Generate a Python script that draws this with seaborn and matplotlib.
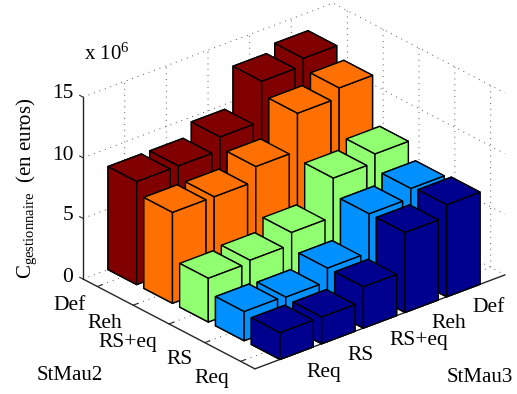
import numpy as np
import matplotlib
matplotlib.use("Agg")
import matplotlib.pyplot as plt
from matplotlib.transforms import Affine2D
import seaborn as sns
from mpl_toolkits.mplot3d import proj3d

labels = ["Req", "RS", "RS+eq", "Reh", "Def"]
row_colors = ["#00008f", "#0090ff", "#90ff70", "#ff7000", "#800000"]
req = [2.2, 2.2, 3.4, 6.6, 7.6]
rs = [2.4, 2.3, 3.4, 6.6, 7.4]
rs_eq = [3.6, 3.8, 4.8, 8.0, 8.7]
reh = [7.5, 7.5, 8.7, 11.8, 12.6]
defa = [8.5, 8.5, 9.6, 12.9, 13.5]
rows = [req, rs, rs_eq, reh, defa]

# where the tick labels sit in the picture (pixels from top left)
x_label_px = [(324, 372), (361, 355), (419, 340), (449, 324), (489, 308)]
y_label_px = [(212, 378), (180, 360), (128, 342), (105, 323), (70, 305)]
z_label_px = [(68, 277), (68, 215), (63, 155), (63, 93)]

sns.set_theme(style="white")
plt.rcParams["font.family"] = ["Liberation Serif"]
plt.rcParams["mathtext.fontset"] = "custom"
plt.rcParams["mathtext.rm"] = "Liberation Serif"
plt.rcParams["mathtext.it"] = "Liberation Serif"
palette = sns.color_palette(row_colors)

W, H = 517, 394
fig = plt.figure(figsize=(W / 100, H / 100), dpi=100)
ax = fig.add_axes([0.1, 0.1, 0.8, 0.8], projection="3d", proj_type="ortho")
ax.view_init(elev=26.3, azim=-130.3)
ax.set_box_aspect((328, 266, 203))

xs, ys, zs, cs = [], [], [], []
for j, row in enumerate(rows):
    for i, v in enumerate(row):
        xs.append(i + 1 - 0.4)
        ys.append(j + 1 - 0.4)
        zs.append(v)
        cs.append(palette[j])
ax.bar3d(xs, ys, np.zeros(len(xs)), 0.8, 0.8, zs, color=cs, shade=False,
         edgecolor="black", linewidth=1.0)

xlim = (0.0, 6.0)
ylim = (0.6, 5.4)
zlim = (0, 15)
ax.set_xlim(*xlim)
ax.set_ylim(*ylim)
ax.set_zlim(*zlim)
ax.set_xticks(range(1, 6), labels)
ax.set_yticks(range(1, 6), labels)
ax.set_zticks([0, 5, 10, 15], ["0", "5", "10", "15"])
ax.tick_params(labelsize=15.5, pad=2, labelcolor="black")
for a in (ax.xaxis, ax.yaxis, ax.zaxis):
    a.set_pane_color((1, 1, 1, 0))
    a.pane.set_edgecolor("none")
    a._axinfo["grid"].update(color="#555555", linewidth=0.7, linestyle=(0, (1, 5)))
    a._axinfo["tick"].update(inward_factor=0.0, outward_factor=0.25, linewidth={True: 0.8, False: 0.8})
    a._axinfo["axisline"]["color"] = "black"
    a.line.set_linewidth(1.0)
ax.zaxis._get_tickdir = lambda position: 1

def screen(x, y, z):
    fig.canvas.draw()
    px, py, _ = proj3d.proj_transform(x, y, z, ax.get_proj())
    return ax.transData.transform((px, py))

left = (xlim[0], ylim[1], 0)
right = (xlim[1], ylim[0], 0)
side = 0.8 * H
p0, p1 = screen(*left), screen(*right)
side *= (505 - 83) / (p1[0] - p0[0])
ax.set_position([0.1, 0.1, side / W, side / H])
p0 = screen(*left)
ax.set_position([0.1 + (83 - p0[0]) / W, 0.1 + (H - 279 - p0[1]) / H, side / W, side / H])

# nudge each real tick label onto its place in the picture
fig.canvas.draw()
renderer = fig.canvas.get_renderer()
for axis, targets in ((ax.xaxis, x_label_px), (ax.yaxis, y_label_px), (ax.zaxis, z_label_px)):
    ticks = axis.get_major_ticks()
    for tick, (tx, ty) in zip(ticks, targets):
        box = tick.label1.get_window_extent(renderer)
        dx = tx - (box.x0 + box.x1) / 2
        dy = (H - ty) - (box.y0 + box.y1) / 2
        tick.label1.set_transform(ax.transData + Affine2D().translate(dx, dy))
        tick.label1.set_transform = lambda *_: None  # Axis3D resets it on every draw

fig.text(27 / W, 1 - 188 / H, r"$\mathrm{C}_{\mathrm{gestionnaire}}$  (en euros)", rotation=90,
         ha="center", va="center", fontsize=15, color="black")
fig.text(84 / W, 1 - 54 / H, r"x $\mathrm{10}^{\mathrm{6}}$", ha="left", va="center", fontsize=15, color="black")
fig.text(37 / W, 1 - 375 / H, "StMau2", ha="left", va="center", fontsize=15, color="black")
fig.text(447 / W, 1 - 378 / H, "StMau3", ha="left", va="center", fontsize=15, color="black")

fig.savefig("out.png", dpi=100)
